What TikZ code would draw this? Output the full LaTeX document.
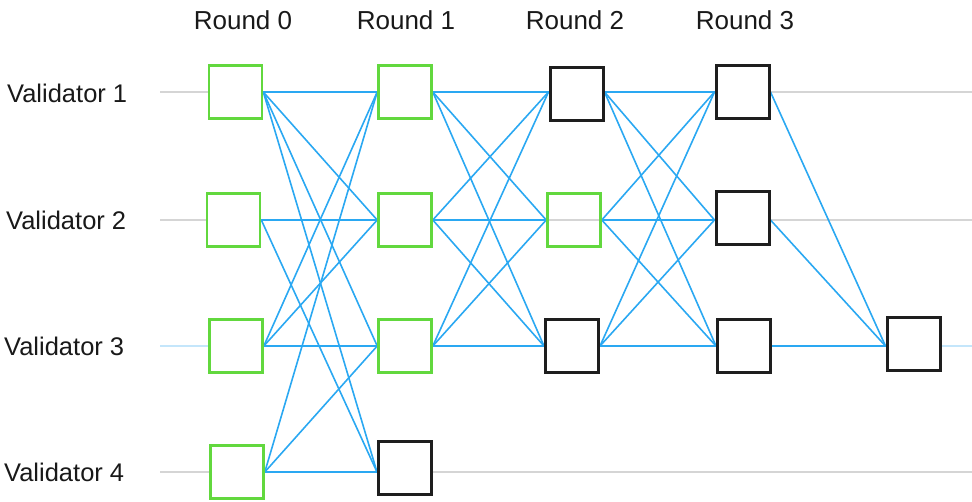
\documentclass[tikz,border=0pt]{standalone}
\usepackage{fontspec}
\setmainfont{Liberation Sans}
\definecolor{conn}{HTML}{2AA8F2}
\definecolor{gboxc}{HTML}{62D83E}
\definecolor{kboxc}{HTML}{1E1E1E}
\definecolor{rowgray}{HTML}{D5D5D5}
\definecolor{rowblue}{HTML}{C4E6FB}
\pgfdeclarelayer{rowlayer}
\pgfdeclarelayer{linklayer}
\pgfsetlayers{rowlayer,linklayer,main}
\begin{document}
\begin{tikzpicture}[x=1pt,y=-1pt,
  box/.style={draw, line width=2.6pt, minimum size=53pt, inner sep=0pt, fill=white},
  gbox/.style={box, draw=gboxc},
  kbox/.style={box, draw=kboxc, line width=3pt},
  link/.style={draw=conn, line width=1.6pt},
  rowline/.style={line width=1.4pt},
  lbl/.style={font=\fontsize{25.5}{30}\selectfont, inner sep=0pt, text=black!90},
  rlbl/.style={font=\fontsize{26}{30}\selectfont, inner sep=0pt, text=black!90}]
\useasboundingbox (0,0) rectangle (972,502);
% row guide lines
\coordinate (s1) at (160,92);  \coordinate (t1) at (972,92);
\coordinate (s2) at (160,220); \coordinate (t2) at (972,220);
\coordinate (s3) at (160,346); \coordinate (t3) at (972,346);
\coordinate (s4) at (160,472); \coordinate (t4) at (972,472);
\begin{pgfonlayer}{rowlayer}
\draw[rowline, rowgray] (s1) -- (t1);
\draw[rowline, rowgray] (s2) -- (t2);
\draw[rowline, rowblue] (s3) -- (t3);
\draw[rowline, rowgray] (s4) -- (t4);
\end{pgfonlayer}
% labels
\node[lbl, anchor=west] (v1) at (7,93) {Validator 1};
\node[lbl, anchor=west] (v2) at (6,220) {Validator 2};
\node[lbl, anchor=west] (v3) at (4,346) {Validator 3};
\node[lbl, anchor=west] (v4) at (4,472) {Validator 4};
\node[rlbl] (r0) at (243,20) {Round 0};
\node[rlbl] (r1) at (406,20) {Round 1};
\node[rlbl] (r2) at (575,20) {Round 2};
\node[rlbl] (r3) at (745,20) {Round 3};
% boxes
\path
  (235.5,92) node[gbox] (a1) {}
  (233.5,220) node[gbox] (a2) {}
  (236,346) node[gbox] (a3) {}
  (237,472) node[gbox] (a4) {}
  (405,92) node[gbox] (b1) {}
  (405,220) node[gbox] (b2) {}
  (405,346) node[gbox] (b3) {}
  (405,468) node[kbox] (b4) {}
  (576.5,94) node[kbox] (c1) {}
  (574,220) node[gbox, fill=none] (c2) {}
  (572,346) node[kbox] (c3) {}
  (742.5,92) node[kbox] (d1) {}
  (742.5,218) node[kbox] (d2) {}
  (744,346) node[kbox] (d3) {}
  (913.5,344) node[kbox] (e3) {};
% connectors
\begin{pgfonlayer}{linklayer}
\foreach \s/\t in {1/1,1/2,1/3,1/4,2/2,2/4,3/1,3/2,3/3,4/1,4/3,4/4}
  \draw[link] (a\s.east |- s\s) -- (b\t.west |- s\t);
\foreach \s in {1,2,3}{
  \foreach \t in {1,2,3}{
    \draw[link] (b\s.east |- s\s) -- (c\t.west |- s\t);
    \draw[link] (c\s.east |- s\s) -- (d\t.west |- s\t);
  }
  \draw[link] (d\s.east |- s\s) -- (e3.west |- s3);
}
\end{pgfonlayer}
\end{tikzpicture}
\end{document}
